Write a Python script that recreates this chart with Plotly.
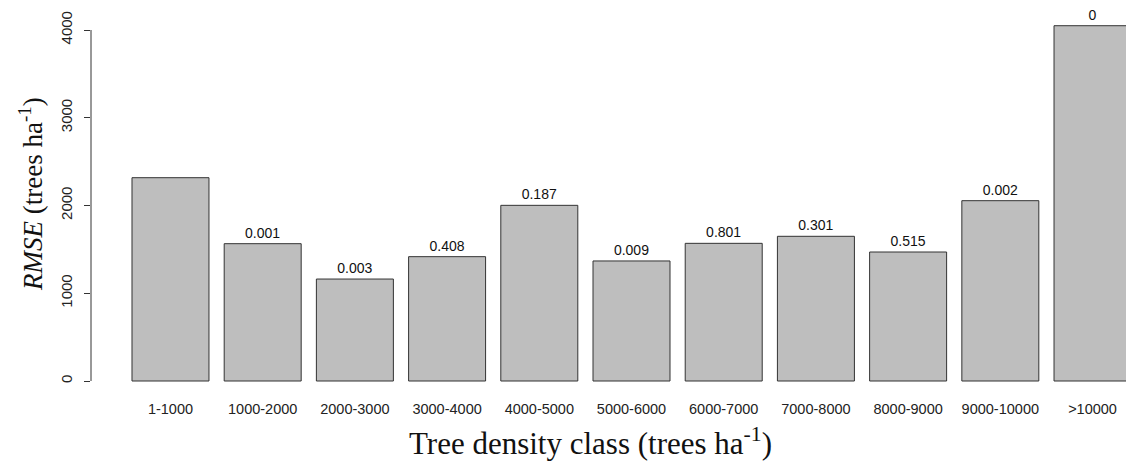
import plotly.graph_objects as go

categories = ["1-1000", "1000-2000", "2000-3000", "3000-4000", "4000-5000",
              "5000-6000", "6000-7000", "7000-8000", "8000-9000", "9000-10000", ">10000"]
rmse = [2317, 1565, 1162, 1417, 2002, 1368, 1569, 1649, 1470, 2055, 4049]
pvalues = ["", "0.001", "0.003", "0.408", "0.187", "0.009", "0.801", "0.301", "0.515", "0.002", "0"]
ytick_vals = [0, 1000, 2000, 3000, 4000]

W, H = 1126, 463
L, R, T, B = 91, 0, 10, 68
pw, ph = W - L - R, H - T - B

def px_x(p):
    return (p - L) / pw

def px_y(p):
    return (H - B - p) / ph

fig = go.Figure()
fig.add_trace(go.Bar(
    x=list(range(len(categories))),
    y=rmse,
    text=pvalues,
    textposition="outside",
    textfont=dict(family="Liberation Sans, Arial, sans-serif", size=14, color="#111"),
    marker=dict(color="#BEBEBE", line=dict(color="#333333", width=1)),
    cliponaxis=False,
    width=0.835,
    hoverinfo="skip",
))

fig.update_layout(
    width=W, height=H,
    margin=dict(l=L, r=R, t=T, b=B, pad=0),
    paper_bgcolor="white", plot_bgcolor="white",
    showlegend=False,
    font=dict(family="Liberation Sans, Arial, sans-serif", color="#222"),
    xaxis=dict(
        range=[-0.862, 10.363],
        tickmode="array",
        tickvals=list(range(len(categories))),
        ticktext=categories,
        showgrid=False, zeroline=False, showline=False,
        ticks="", tickfont=dict(size=14.5, color="#222"),
        ticklabelstandoff=3,
    ),
    yaxis=dict(
        range=[-159.5, 4228],
        tickmode="array",
        tickvals=ytick_vals,
        ticktext=[str(v) for v in ytick_vals],
        showgrid=False, zeroline=False, showline=False,
        ticks="outside", ticklen=6, tickcolor="#333", tickwidth=1,
        tickangle=-90,
        tickfont=dict(size=15, color="#222"),
        ticklabelstandoff=6,
    ),
    shapes=[dict(type="line", xref="paper", yref="y", x0=0, x1=0,
                 y0=ytick_vals[0], y1=ytick_vals[-1],
                 line=dict(color="#333", width=1))],
    annotations=[
        dict(text="<i>RMSE</i> (trees ha<sup>-1</sup>)", xref="paper", yref="paper",
             x=px_x(31), y=px_y(194), xanchor="center", yanchor="middle",
             textangle=-90, showarrow=False,
             font=dict(family="Liberation Serif, Times New Roman, serif", size=27, color="#111")),
        dict(text="Tree density class (trees ha<sup>-1</sup>)", xref="paper", yref="paper",
             x=px_x(590), y=px_y(441), xanchor="center", yanchor="middle",
             showarrow=False,
             font=dict(family="Liberation Serif, Times New Roman, serif", size=31, color="#111")),
    ],
)

fig.write_html(
    "out.html",
    config={"displayModeBar": False},
    post_script="document.body.style.margin='0';document.body.style.overflow='hidden';",
)
